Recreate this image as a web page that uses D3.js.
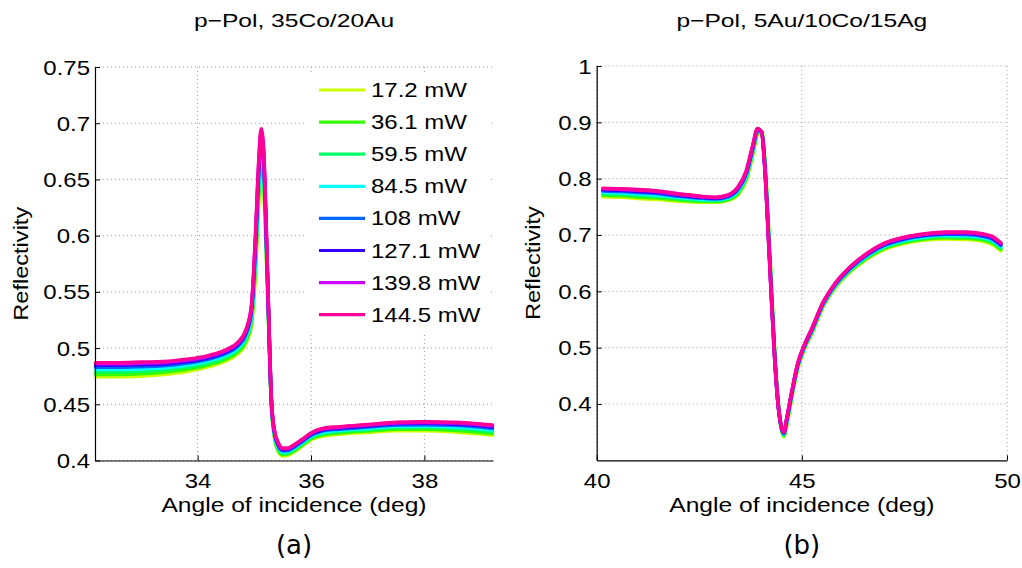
<!DOCTYPE html>
<html><head><meta charset="utf-8">
<script src="https://cdn.jsdelivr.net/npm/d3@7"></script>
<style>
html,body{margin:0;padding:0;background:#fff;}
svg{display:block;}
text{font-family:"Liberation Sans",Arial,Helvetica,sans-serif;fill:#000;}
</style></head><body>
<svg id="chart" width="1022" height="568"></svg>
<script>
// ---------- DATA ----------
const seriesLabels = ["17.2 mW","36.1 mW","59.5 mW","84.5 mW","108 mW","127.1 mW","139.8 mW","144.5 mW"];
const seriesColors = ["#ccff00","#33ff00","#00ff66","#00ffff","#0066ff","#3300ff","#cc00ff","#ff0099"];

// Panel (a): p-Pol, 35Co/20Au
const titleA = "p\u2212Pol, 35Co/20Au";
const angleA = [32.2,32.6,33.0,33.4,33.8,34.2,34.5,34.7,34.85,34.95,35.02,35.08,35.12,35.16,35.2,35.25,35.3,35.35,35.42,35.5,35.58,35.7,35.85,36.0,36.2,36.5,37.0,37.5,38.0,38.5,39.0,39.2];
const a_17_2  = [0.4745,0.4745,0.475,0.4765,0.479,0.4835,0.4885,0.4945,0.504,0.52,0.565,0.63,0.658,0.648,0.6,0.525,0.45,0.422,0.408,0.404,0.4045,0.4075,0.413,0.4185,0.4215,0.4235,0.425,0.4265,0.4265,0.4255,0.4235,0.4225];
const a_36_1  = [0.4766,0.4766,0.4771,0.4785,0.4809,0.4852,0.4902,0.4962,0.5060,0.5231,0.5710,0.6365,0.6643,0.6534,0.6043,0.5267,0.4509,0.4230,0.4094,0.4052,0.4056,0.4086,0.4140,0.4195,0.4227,0.4246,0.4262,0.4278,0.4279,0.4269,0.4250,0.4240];
const a_59_5  = [0.4789,0.4789,0.4794,0.4805,0.4829,0.4870,0.4920,0.4980,0.5082,0.5263,0.5773,0.6433,0.6710,0.6592,0.6088,0.5285,0.4518,0.4241,0.4108,0.4065,0.4068,0.4098,0.4151,0.4206,0.4240,0.4258,0.4275,0.4291,0.4293,0.4285,0.4267,0.4257];
const a_84_5  = [0.4810,0.4810,0.4815,0.4825,0.4847,0.4887,0.4937,0.4997,0.5102,0.5294,0.5832,0.6498,0.6772,0.6646,0.6130,0.5302,0.4526,0.4251,0.4122,0.4076,0.4079,0.4109,0.4161,0.4216,0.4251,0.4269,0.4286,0.4304,0.4307,0.4299,0.4282,0.4272];
const a_108   = [0.4830,0.4830,0.4835,0.4843,0.4865,0.4903,0.4953,0.5013,0.5122,0.5322,0.5888,0.6558,0.6832,0.6698,0.6170,0.5318,0.4534,0.4261,0.4134,0.4088,0.4089,0.4119,0.4171,0.4226,0.4263,0.4279,0.4298,0.4316,0.4319,0.4313,0.4296,0.4286];
const a_127_1 = [0.4848,0.4848,0.4853,0.4859,0.4880,0.4917,0.4967,0.5027,0.5138,0.5348,0.5937,0.6612,0.6883,0.6742,0.6205,0.5332,0.4541,0.4269,0.4146,0.4097,0.4098,0.4128,0.4179,0.4234,0.4272,0.4288,0.4307,0.4327,0.4331,0.4325,0.4309,0.4299];
const a_139_8 = [0.4861,0.4861,0.4866,0.4872,0.4892,0.4928,0.4978,0.5038,0.5152,0.5367,0.5976,0.6653,0.6924,0.6778,0.6233,0.5343,0.4547,0.4276,0.4154,0.4105,0.4105,0.4135,0.4186,0.4241,0.4280,0.4295,0.4315,0.4335,0.4339,0.4334,0.4319,0.4309];
const a_144_5 = [0.487,0.487,0.4875,0.488,0.490,0.4935,0.4985,0.5045,0.516,0.538,0.600,0.668,0.695,0.680,0.625,0.535,0.455,0.428,0.416,0.411,0.411,0.414,0.419,0.4245,0.4285,0.430,0.432,0.434,0.4345,0.434,0.4325,0.4315];
const xTicksA = [34,36,38];
const yTicksA = [0.4,0.45,0.5,0.55,0.6,0.65,0.7,0.75];
const xDomainA = [32.19,39.21];
const yDomainA = [0.4,0.75];

// Panel (b): p-Pol, 5Au/10Co/15Ag
const titleB = "p\u2212Pol, 5Au/10Co/15Ag";
const angleB = [40.15,40.6,41.0,41.5,42.0,42.5,42.9,43.2,43.45,43.65,43.8,43.92,44.02,44.1,44.18,44.26,44.34,44.42,44.5,44.56,44.64,44.75,44.9,45.05,45.25,45.5,45.8,46.2,46.6,47.0,47.5,48.0,48.5,49.0,49.4,49.65,49.85];
const b_17_2  = [0.768,0.767,0.765,0.763,0.760,0.758,0.758,0.761,0.772,0.798,0.840,0.878,0.884,0.830,0.725,0.605,0.490,0.405,0.355,0.342,0.365,0.410,0.463,0.495,0.526,0.570,0.605,0.636,0.658,0.674,0.685,0.691,0.693,0.692,0.689,0.683,0.672];
const b_36_1  = [0.7706,0.7696,0.7676,0.7656,0.7622,0.7599,0.7595,0.7627,0.7744,0.8009,0.8431,0.8799,0.8837,0.8275,0.7213,0.6016,0.4880,0.4042,0.3559,0.3434,0.3672,0.4117,0.4645,0.4964,0.5275,0.5714,0.6064,0.6375,0.6597,0.6759,0.6869,0.6929,0.6950,0.6942,0.6912,0.6854,0.6744];
const b_59_5  = [0.7733,0.7723,0.7704,0.7683,0.7646,0.7619,0.7612,0.7645,0.7769,0.8040,0.8463,0.8819,0.8833,0.8248,0.7173,0.5980,0.4858,0.4033,0.3568,0.3448,0.3696,0.4135,0.4662,0.4978,0.5292,0.5728,0.6078,0.6392,0.6615,0.6779,0.6889,0.6949,0.6972,0.6966,0.6936,0.6879,0.6769];
const b_84_5  = [0.7758,0.7748,0.7731,0.7708,0.7668,0.7637,0.7627,0.7662,0.7793,0.8068,0.8494,0.8837,0.8830,0.8222,0.7136,0.5946,0.4838,0.4024,0.3576,0.3462,0.3718,0.4152,0.4677,0.4992,0.5307,0.5742,0.6092,0.6407,0.6632,0.6797,0.6907,0.6967,0.6992,0.6988,0.6958,0.6903,0.6793];
const b_108   = [0.7782,0.7772,0.7755,0.7732,0.7688,0.7655,0.7641,0.7678,0.7815,0.8096,0.8522,0.8855,0.8826,0.8198,0.7100,0.5914,0.4818,0.4016,0.3584,0.3474,0.3738,0.4168,0.4691,0.5004,0.5321,0.5754,0.6104,0.6421,0.6648,0.6815,0.6925,0.6985,0.7012,0.7008,0.6978,0.6925,0.6815];
const b_127_1 = [0.7803,0.7793,0.7777,0.7753,0.7707,0.7670,0.7654,0.7692,0.7835,0.8119,0.8548,0.8870,0.8824,0.8177,0.7070,0.5886,0.4802,0.4009,0.3591,0.3486,0.3757,0.4182,0.4704,0.5016,0.5334,0.5766,0.6116,0.6434,0.6662,0.6830,0.6940,0.7000,0.7028,0.7027,0.6997,0.6945,0.6835];
const b_139_8 = [0.7820,0.7810,0.7794,0.7770,0.7721,0.7682,0.7664,0.7703,0.7850,0.8138,0.8567,0.8882,0.8821,0.8161,0.7045,0.5864,0.4788,0.4003,0.3597,0.3494,0.3771,0.4193,0.4714,0.5024,0.5344,0.5774,0.6124,0.6444,0.6673,0.6842,0.6952,0.7012,0.7042,0.7041,0.7011,0.6960,0.6850];
const b_144_5 = [0.783,0.782,0.7805,0.778,0.773,0.769,0.767,0.771,0.786,0.815,0.858,0.889,0.882,0.815,0.703,0.585,0.478,0.400,0.360,0.350,0.378,0.420,0.472,0.503,0.535,0.578,0.613,0.645,0.668,0.685,0.696,0.702,0.705,0.705,0.702,0.697,0.686];
const xTicksB = [40,45,50];
const yTicksB = [0.4,0.5,0.6,0.7,0.8,0.9,1];
const xDomainB = [40,50];
const yDomainB = [0.3,1];

const axisLabelX = "Angle of incidence (deg)";
const axisLabelY = "Reflectivity";

// ---------- DRAW ----------
const svg = d3.select("#chart");
svg.append("rect").attr("width",1022).attr("height",568).attr("fill","#fff");

const SX = 1.2; // horizontal glyph stretch of the original's font

function addText(g, x, y, str, opt) {
  const o = Object.assign({size:20, anchor:"middle", sx:SX, rot:0, family:null}, opt||{});
  const t = g.append("text")
    .attr("transform", `translate(${x},${y}) rotate(${o.rot}) scale(${o.sx},1)`)
    .attr("text-anchor", o.anchor)
    .style("font-size", o.size + "px")
    .text(str);
  if (o.family) t.style("font-family", o.family);
  return t;
}

function fmt(d) { return String(+d.toFixed(2)); }

function panel(cfg) {
  const {left, right, top, bottom} = cfg;
  const x = d3.scaleLinear().domain(cfg.xDomain).range([left, right]);
  const y = d3.scaleLinear().domain(cfg.yDomain).range([bottom, top]);
  const g = svg.append("g");

  // grid
  const grid = g.append("g");
  grid.selectAll("line.gx").data(cfg.xTicks).join("line")
    .attr("x1", d => x(d)).attr("x2", d => x(d))
    .attr("y1", top).attr("y2", bottom)
    .attr("stroke", "#9a9a9a").attr("stroke-width", 1)
    .attr("stroke-dasharray", "1,3");
  grid.selectAll("line.gy").data(cfg.yTicks).join("line")
    .attr("x1", left).attr("x2", right)
    .attr("y1", d => y(d)).attr("y2", d => y(d))
    .attr("stroke", "#9a9a9a").attr("stroke-width", 1)
    .attr("stroke-dasharray", "1,3");

  // curves
  const line = d3.line().x(d => x(d[0])).y(d => y(d[1])).curve(d3.curveMonotoneX);
  cfg.series.forEach((vals, i) => {
    const pts = cfg.angles.map((a, k) => [a, vals[k]]);
    g.append("path").datum(pts)
      .attr("d", line)
      .attr("fill", "none")
      .attr("stroke", seriesColors[i])
      .attr("stroke-width", 3.6)
      .attr("stroke-linejoin", "round")
      .attr("stroke-linecap", "round");
  });

  // axes
  const ax = g.append("g").attr("transform", `translate(0,${bottom})`)
    .call(d3.axisBottom(x).tickValues(cfg.xTicks).tickSizeInner(-5).tickSizeOuter(0).tickFormat(fmt));
  ax.select(".domain").attr("stroke", "#000").attr("stroke-width", 1.2);
  ax.selectAll(".tick line").attr("stroke", "#000");
  ax.selectAll(".tick text")
    .attr("y", 0).attr("dy", 0)
    .attr("transform", `translate(0,27.5) scale(${SX},1)`)
    .style("font-size", "20px")
    .style("font-family", '"Liberation Sans",Arial,sans-serif')
    .attr("fill", "#000");

  const ay = g.append("g").attr("transform", `translate(${left},0)`)
    .call(d3.axisLeft(y).tickValues(cfg.yTicks).tickSizeInner(-5).tickSizeOuter(0).tickFormat(fmt));
  ay.select(".domain").attr("stroke", "#000").attr("stroke-width", 1.2);
  ay.selectAll(".tick line").attr("stroke", "#000");
  ay.selectAll(".tick text")
    .attr("x", 0).attr("dy", 0)
    .attr("transform", `translate(-5,7) scale(${SX},1)`)
    .style("font-size", "20px")
    .style("font-family", '"Liberation Sans",Arial,sans-serif')
    .attr("fill", "#000");

  const cx = (left + right) / 2;
  addText(g, cx, 26.5, cfg.title, {size:18.5, sx:1.33});
  addText(g, cx, 512, axisLabelX, {size:20.5, sx:1.2});
  addText(g, cfg.ylabelX, (top + bottom) / 2, axisLabelY, {size:20.5, sx:1.15, rot:-90});
  addText(g, cx, 554, cfg.letter, {size:26, sx:1, family:'"DejaVu Sans",Verdana,sans-serif'});
  return g;
}

const gA = panel({
  left:95, right:493, top:67, bottom:460.5,
  xDomain:xDomainA, yDomain:yDomainA, xTicks:xTicksA, yTicks:yTicksA,
  angles:angleA, series:[a_17_2,a_36_1,a_59_5,a_84_5,a_108,a_127_1,a_139_8,a_144_5],
  title:titleA, letter:"(a)", ylabelX:28
});

panel({
  left:596.7, right:1007, top:66, bottom:460.3,
  xDomain:xDomainB, yDomain:yDomainB, xTicks:xTicksB, yTicks:yTicksB,
  angles:angleB, series:[b_17_2,b_36_1,b_59_5,b_84_5,b_108,b_127_1,b_139_8,b_144_5],
  title:titleB, letter:"(b)", ylabelX:540
});

// legend (panel a)
const leg = gA.append("g");
leg.append("rect").attr("x",306).attr("y",73).attr("width",185).attr("height",259).attr("fill","#fff");
seriesLabels.forEach((lab, i) => {
  const ry = 90 + i * 32.1;
  leg.append("line").attr("x1",319).attr("x2",365).attr("y1",ry).attr("y2",ry)
    .attr("stroke", seriesColors[i]).attr("stroke-width", 3.2);
  addText(leg, 371, ry + 7, lab, {size:20, anchor:"start", sx:1.2});
});
</script>
</body></html>
